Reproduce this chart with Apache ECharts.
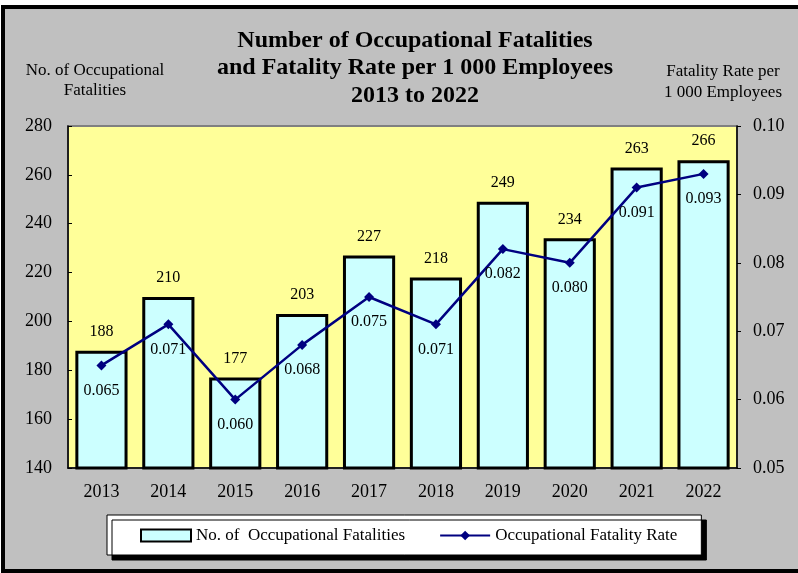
<!DOCTYPE html>
<html>
<head>
<meta charset="utf-8">
<script src="https://cdn.jsdelivr.net/npm/echarts@6/dist/echarts.min.js"></script>
<style>
html,body{margin:0;padding:0;background:#fff;}
#c{width:798px;height:573px;}
</style>
</head>
<body>
<div id="c"></div>
<script>
const years = ['2013','2014','2015','2016','2017','2018','2019','2020','2021','2022'];
const fatalities = [188, 210, 177, 203, 227, 218, 249, 234, 263, 266];
const fatalityRate = [0.065, 0.071, 0.060, 0.068, 0.075, 0.071, 0.082, 0.080, 0.091, 0.093];
const leftTicks = [140, 160, 180, 200, 220, 240, 260, 280];
const rightTicks = [0.05, 0.06, 0.07, 0.08, 0.09, 0.10];

const FONT = 'Liberation Serif';
const tickRich = {t: {fontFamily: FONT, fontSize: 18, color: '#000'}};
const chart = echarts.init(document.getElementById('c'), null, {renderer: 'canvas'});
chart.setOption({
  animation: false,
  textStyle: {fontFamily: FONT},
  graphic: [
    {type: 'rect', z: -10, shape: {x: 3, y: 7, width: 820, height: 564},
     style: {fill: '#C0C0C0', stroke: '#000', lineWidth: 4}},
    {type: 'text', z: 10,
     style: {text: 'Number of Occupational Fatalities\nand Fatality Rate per 1 000 Employees\n2013 to 2022',
       x: 415, y: 27, fontFamily: FONT, fontSize: 24, fontWeight: 'bold', lineHeight: 27.5,
       align: 'center', fill: '#000'}},
    {type: 'text', z: 10, style: {text: 'No. of Occupational\nFatalities', x: 95, y: 61,
       fontFamily: FONT, fontSize: 17, lineHeight: 20, align: 'center', fill: '#000'}},
    {type: 'text', z: 10, style: {text: 'Fatality Rate per\n1 000 Employees', x: 723, y: 61,
       fontFamily: FONT, fontSize: 17, lineHeight: 21, align: 'center', fill: '#000'}}
  ],
  grid: {left: 68, right: 61, top: 126, bottom: 105, show: true,
    backgroundColor: '#FFFF99', borderColor: '#808080', borderWidth: 2},
  legend: {
    left: 107, top: 515,
    padding: [12, 24, 11, 33],
    backgroundColor: '#fff', borderColor: '#000', borderWidth: 1,
    shadowColor: '#000', shadowBlur: 0, shadowOffsetX: 5, shadowOffsetY: 5,
    itemWidth: 50, itemHeight: 12, itemGap: 34,
    textStyle: {fontFamily: FONT, fontSize: 17, color: '#000'},
    data: [{name: 'No. of  Occupational Fatalities', icon: 'rect'}, {name: 'Occupational Fatality Rate'}]
  },
  xAxis: {
    type: 'category', data: years,
    axisLine: {lineStyle: {color: '#000', width: 1.5}},
    axisTick: {inside: true, length: 5, lineStyle: {color: '#000'}},
    axisLabel: {interval: 0, margin: 15, fontSize: 18, color: '#000', fontFamily: FONT,
      formatter: v => '{t|' + v + '}', rich: tickRich}
  },
  yAxis: [
    {type: 'value', min: leftTicks[0], max: leftTicks[leftTicks.length-1], interval: 20,
     splitLine: {show: false},
     axisLine: {show: true, lineStyle: {color: '#000', width: 1.5}},
     axisTick: {show: true, inside: true, length: 4, lineStyle: {color: '#000'}},
     axisLabel: {margin: 16, fontSize: 18, color: '#000', fontFamily: FONT,
       formatter: v => '{t|' + v + '}', rich: tickRich}},
    {type: 'value', min: rightTicks[0], max: rightTicks[rightTicks.length-1], interval: 0.01,
     splitLine: {show: false},
     axisLine: {show: true, lineStyle: {color: '#000', width: 1.5}},
     axisTick: {show: true, inside: false, length: 4, lineStyle: {color: '#000'}},
     axisLabel: {margin: 16, fontSize: 18, color: '#000', fontFamily: FONT,
       formatter: v => '{t|' + v.toFixed(2) + '}', rich: tickRich}}
  ],
  series: [
    {name: 'No. of  Occupational Fatalities', type: 'bar', data: fatalities, barWidth: '78%',
     itemStyle: {color: '#CCFFFF', borderColor: '#000', borderWidth: 3},
     label: {show: true, position: 'top', distance: 11, fontSize: 16, color: '#000', fontFamily: FONT}},
    {name: 'Occupational Fatality Rate', type: 'line', yAxisIndex: 1, data: fatalityRate,
     symbol: 'diamond', symbolSize: 10, z: 5,
     lineStyle: {color: '#000080', width: 2.5},
     itemStyle: {color: '#000080'},
     label: {show: true, position: 'bottom', distance: 12, fontSize: 16, color: '#000', fontFamily: FONT,
       formatter: p => p.value.toFixed(3)}}
  ]
});
</script>
</body>
</html>
